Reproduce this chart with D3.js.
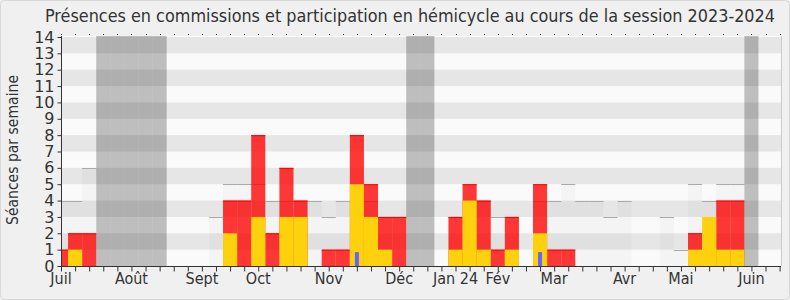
<!DOCTYPE html>
<html>
<head>
<meta charset="utf-8">
<script src="https://cdn.jsdelivr.net/npm/d3@7"></script>
<style>
  body { margin: 0; background: #f0f0f0; }
  svg { display: block; }
</style>
</head>
<body>
<div id="chart"></div>
<script>
// one value per week, week 0 = first week of July 2023
var weeks = d3.range(52);
var commissions = [1,2,2,0,0,0,0,0,0,0, 0,0,4,4,8,2,6,4,0,1, 1,8,5,3,3,0,0,0,3,5, 4,1,3,0,5,1,1,0,0,0, 0,0,0,0,0,2,0,4,4,0, 0,0];
var hemicycle   = [0,1,0,0,0,0,0,0,0,0, 0,0,2,0,3,0,3,3,0,0, 0,5,3,1,0,0,0,0,1,4, 1,0,1,0,2,0,0,0,0,0, 0,0,0,0,0,1,3,1,1,0, 0,0];
var questions   = [0,0,0,0,0,0,0,0,0,0, 0,0,0,0,0,0,0,0,0,0, 0,0.85,0,0,0,0,0,0,0,0, 0,0,0,0,0.85,0,0,0,0,0, 0,0,0,0,0,0,0,0,0,0, 0,0];
var mediane     = [4,4,6,0,0,0,0,0,0,0, 0,3,5,5,5,4,4,4,4,3, 4,4,4,3,3,0,0,0,3,4, 4,3,3,0,4,4,5,4,4,3, 4,0,0,3,1,5,4,5,5,0, 0,0];
var vacances = [3,4,5,6,7,25,26,49];
var monthLabels = ["Juil","Août","Sept","Oct","Nov","Déc","Jan 24","Fév","Mar","Avr","Mai","Juin"];
var monthWeeks  = [0,5,10,14,19,24,28,31,35,40,44,49];
var yTicks = d3.range(0, 15);

var W = 790, H = 300;
var pLeft = 61, pRight = 781, pTop = 36, pBottom = 266;

var svg = d3.select("#chart").append("svg").attr("width", W).attr("height", H);

svg.append("rect").attr("x", 0.5).attr("y", 0.5).attr("width", W - 1).attr("height", H - 1)
    .attr("rx", 4).attr("fill", "#f0f0f0").attr("stroke", "#d8d8d8");

var x = d3.scaleLinear().domain([0, 51]).range([pLeft, 779.6]);
var y = d3.scaleLinear().domain([0, 14]).range([pBottom, 37]);
var half = (x(1) - x(0)) / 2;

svg.append("clipPath").attr("id", "plot")
    .append("rect").attr("x", pLeft).attr("y", pTop).attr("width", pRight - pLeft).attr("height", pBottom - pTop);

var g = svg.append("g").attr("clip-path", "url(#plot)");

// bandes horizontales
g.append("rect").attr("x", pLeft).attr("y", pTop).attr("width", pRight - pLeft).attr("height", pBottom - pTop).attr("fill", "#fafafa");
g.selectAll(".band").data(yTicks.filter(function (d) { return d % 2 == 1 && d < 14; }))
    .enter().append("rect")
    .attr("x", pLeft).attr("width", pRight - pLeft)
    .attr("y", function (d) { return y(d + 1); })
    .attr("height", function (d) { return y(d) - y(d + 1); })
    .attr("fill", "#e6e6e6");

// mediane
var medWeeks = weeks.filter(function (k) { return mediane[k] > 0; });
g.selectAll(".med").data(medWeeks)
    .enter().append("rect")
    .attr("x", function (k) { return x(k) - half; })
    .attr("width", half * 2)
    .attr("y", function (k) { return y(mediane[k]); })
    .attr("height", function (k) { return y(0) - y(mediane[k]); })
    .attr("fill", "rgba(0,0,0,0.025)");
g.selectAll(".medline").data(medWeeks)
    .enter().append("line")
    .attr("x1", function (k) { return x(k) - half; })
    .attr("x2", function (k) { return x(k) + half; })
    .attr("y1", function (k) { return Math.round(y(mediane[k])) + 0.5; })
    .attr("y2", function (k) { return Math.round(y(mediane[k])) + 0.5; })
    .attr("stroke", "#aaaaaa");

// commissions
var comWeeks = weeks.filter(function (k) { return commissions[k] > 0; });
g.selectAll(".com").data(comWeeks)
    .enter().append("rect")
    .attr("x", function (k) { return x(k) - half; })
    .attr("width", half * 2)
    .attr("y", function (k) { return y(commissions[k]); })
    .attr("height", function (k) { return y(0) - y(commissions[k]); })
    .attr("fill", "rgba(255,0,0,0.78)");
g.selectAll(".comtop").data(comWeeks)
    .enter().append("rect")
    .attr("x", function (k) { return x(k) - half; })
    .attr("width", half * 2)
    .attr("y", function (k) { return y(commissions[k]); })
    .attr("height", 1)
    .attr("fill", "#ff0000");

// hemicycle
g.selectAll(".hem").data(weeks.filter(function (k) { return hemicycle[k] > 0; }))
    .enter().append("rect")
    .attr("x", function (k) { return x(k) - half; })
    .attr("width", half * 2)
    .attr("y", function (k) { return y(hemicycle[k]); })
    .attr("height", function (k) { return y(0) - y(hemicycle[k]); })
    .attr("fill", "#fdd10c");

// questions
g.selectAll(".q").data(weeks.filter(function (k) { return questions[k] > 0; }))
    .enter().append("rect")
    .attr("x", function (k) { return x(k) - 2; })
    .attr("width", 4)
    .attr("y", function (k) { return y(questions[k]); })
    .attr("height", function (k) { return y(0) - y(questions[k]); })
    .attr("fill", "#6464ff");

// vacances
g.selectAll(".vac").data(vacances)
    .enter().append("rect")
    .attr("x", function (k) { return x(k) - half; })
    .attr("width", half * 2)
    .attr("y", pTop)
    .attr("height", pBottom - pTop)
    .attr("fill", "rgba(0,0,0,0.24)");

// bord droit
svg.append("line").attr("x1", pRight + 0.5).attr("x2", pRight + 0.5).attr("y1", pTop).attr("y2", pBottom)
    .attr("stroke", "#cccccc");

// petits points du haut
svg.selectAll(".dot").data(weeks)
    .enter().append("rect")
    .attr("x", function (k) { return Math.round(x(k)); })
    .attr("y", 34).attr("width", 1).attr("height", 1)
    .attr("fill", "#333");

// axes
var yAxis = d3.axisLeft(y).tickValues(yTicks).tickSize(4).tickPadding(3).tickFormat(d3.format("d"));
var ya = svg.append("g").attr("transform", "translate(" + (pLeft + 0.5) + ",0)").call(yAxis);
ya.select(".domain").attr("d", "M0," + pTop + "V" + pBottom);
ya.selectAll("path, line").attr("stroke", "#333");
ya.selectAll("text").attr("font-family", "DejaVu Sans").attr("font-size", 16).attr("fill", "#333");

var xAxis = d3.axisBottom(x).tickValues(weeks).tickSize(5).tickFormat("");
var xa = svg.append("g").attr("transform", "translate(0," + (pBottom + 0.5) + ")").call(xAxis);
xa.select(".domain").attr("d", "M" + pLeft + ",0H" + pRight);
xa.selectAll("path, line").attr("stroke", "#333");

svg.selectAll(".month").data(monthLabels)
    .enter().append("text")
    .attr("x", function (d, i) { return x(monthWeeks[i]); })
    .attr("y", 284)
    .attr("text-anchor", "middle")
    .attr("font-family", "DejaVu Sans Condensed")
    .attr("font-size", 16)
    .attr("fill", "#333")
    .text(function (d) { return d; });

svg.append("text")
    .attr("x", 410).attr("y", 22)
    .attr("text-anchor", "middle")
    .attr("font-family", "DejaVu Sans Condensed")
    .attr("font-size", 17)
    .attr("textLength", 730).attr("lengthAdjust", "spacingAndGlyphs")
    .attr("fill", "#333")
    .text("Présences en commissions et participation en hémicycle au cours de la session 2023-2024");

svg.append("text")
    .attr("transform", "translate(18,150) rotate(-90)")
    .attr("text-anchor", "middle")
    .attr("font-family", "DejaVu Sans Condensed")
    .attr("font-size", 15)
    .attr("textLength", 150).attr("lengthAdjust", "spacingAndGlyphs")
    .attr("fill", "#333")
    .text("Séances par semaine");
</script>
</body>
</html>
